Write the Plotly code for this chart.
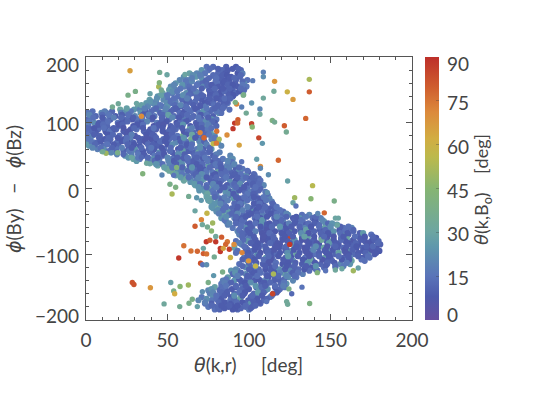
import plotly.graph_objects as go

# Dense cloud: phi difference, then theta(k,r), then theta(k,B0)
rows_y = [185,180,175,170,165,160,155,150,145,140,135,130,125,120,115,110,105,100,95,90,85,80,75,70,65,60,55,50,45,40,35,30,25,20,15,10,5,0,
          -5,-10,-15,-20,-25,-30,-35,-40,-45,-50,-55,-60,-65,-70,-75,-80,-85,-90,-95,-100,-105,-110,-115,-120,-125,-130,-135,-140,-145,-150,-155,-160,-165,-170,-175,-180,-184]
rows_x = [
 [74,78,86,92],
 [71,75,83.5,87,95],
 [63.5,68,73,81,85.5,93,96],
 [60,67.5,70.5,79,83,89,94.5],
 [57.5,62.5,71.5,74,82.5,86,92,99],
 [55,63,69,71.5,80.5,84,91.5,97],
 [52,60.5,63.5,72,78,81,89.5,93,98.5],
 [51,55,63.5,66,75.5,78.5,86.5,90,97],
 [47,53,61.5,65,69.5,78,81.5,89.5,92],
 [44,48,56.5,59.5,68,72,79.5,83,90],
 [39,47.5,50.5,59,63,71,74.5,82.5,86],
 [37,41,49.5,52,61.5,65,73,76.5,84.5,87],
 [32,38,46.5,50,58.5,61.5,70.5,73.5,81.5,85],
 [21,29.5,33,41.5,44,53.5,56,65.5,68,77.5,81,88],
 [1,9.5,12.5,21.5,24,33.5,36.5,45.5,48,57.5,60,69.5,72.5,81.5,83],
 [3,6,14.5,18,26.5,30,38.5,42,50.5,54,62.5,66,74.5,78],
 [0.5,11,15,23.5,28.5,32,40.5,47,51,59.5,63,71,77,80],
 [5,8,19.5,22,31.5,35,43.5,46,55.5,58,67.5,70,79,76],
 [1.5,10,13,20,29,33,41.5,44,52,56.5,64,68,73,80],
 [3,7.5,16,18.5,27.5,31,39.5,43,51.5,55,63.5,69,74],
 [0,6,12.5,16,24.5,37,40.5,49,53,60.5,66,70,76.5],
 [3.5,8.5,14.5,20.5,26,30,38.5,42,50,56,59.5,68,72,79],
 [1,11.5,15,23.5,27,34.5,40,47.5,51,57,64.5,71,77],
 [5,7,13.5,19,25.5,29,37,43,45.5,55,61.5,65,73,81],
 [2,10.5,17,20,28.5,33,41,44,52,58.5,62,70,74,83],
 [7,11,18.5,26,30,38.5,42,48,56.5,60,68,72,77],
 [15,19,28,32,40.5,45,53,57,65.5,69,75,82],
 [24,28,36,42,47,54.5,58,66.5,70,78,88.5],
 [29,33,41.5,45,53,59.5,63,71.5,75,84,90],
 [41,45,53.5,57,65.5,69,77.5,81,89.5],
 [44,51,55,63.5,67,75,78,86.5,91],
 [49.5,56,60,68,72,81,85,92,96],
 [53,57,65.5,69,77.5,81,89,93,99.5],
 [55,62,66,74,78,86,90,98,103.5],
 [61,64,72.5,76,84.5,88,96.5,100,106],
 [64,68,76.5,80,88.5,92,100.5,105],
 [67,74,78,86.5,90,98.5,102,109],
 [71,75,83.5,87,95.5,99,107],
 [73,77,85.5,89,97.5,101,110],
 [74,80,88.5,92,100,104,111.5],
 [77,82,90.5,94,102,106,112.5],
 [76.5,81,85,93.5,97,105,109,114],
 [79,83,91.5,95,103.5,107,115],
 [78,81,89.5,93,101,105,113,116.5],
 [80,87,91,99.5,103,111.5,115,121],
 [84,88,96.5,100,108.5,112,120.5,124,132.5,137],
 [83,91,95,103.5,107,115.5,119,127,131,139,144],
 [86,93,97,105.5,109,117.5,121,129.5,133,141,146],
 [87,95,99,107.5,111,119.5,123,131.5,135,143,147,154],
 [90,98,102,110.5,114,122.5,126,134.5,138,146.5,150,158,163],
 [93,100,104,112.5,116,124.5,128,136.5,140,148.5,152,160,164],
 [94,97,101,109.5,113,121.5,125,133.5,137,145.5,149,157.5,161,169,175],
 [96,100,108.5,112,120.5,124,132.5,136,144.5,148,156.5,160,168,171,178],
 [92,99,103,111.5,115,123.5,127,135.5,139,147.5,151,159,163,171,175,179.5],
 [95.5,103,107,115.5,119,127.5,131,139.5,143,151.5,155,163,167,175,180.5],
 [91,98,106,110,118.5,122,130.5,134,142.5,146,154.5,158,166,170,178],
 [93,98,102,110.5,114,122.5,126,134.5,138,146.5,150,158.5,162,170,174,180],
 [101,105,113.5,117,125.5,129,137.5,141,149.5,153,161.5,165,173,177],
 [97,102,110.5,114,122.5,126,134.5,138,146.5,150,158,162,170,174],
 [99,103,111.5,115,123.5,127,135,139,147.5,151,159.5,163,171],
 [94,100,108.5,112,120.5,124,132.5,136,144,148,156,162],
 [98,102,110.5,114,122.5,126,134.5,138,146,153],
 [89,93,101.5,105,113.5,117,125,129,137,142],
 [90,98,102,110.5,114,122,126,133],
 [87,92,100.5,104,112,116,124,129],
 [84,91,95,103.5,107,115.5,119,127],
 [83,87,95.5,99,107.5,111,119.5,123],
 [79,83,92,96,104.5,108,116,122],
 [75,82,86,94.5,98,106,110,118],
 [76,78,86.5,91,97,103,107,115],
 [71,78,82,89,95,101,105,113],
 [69,77,81,88.5,92,99.5,103,109],
 [73,77,85.5,89,97,101,107],
 [75,79,87.5,91,98,102],
 [79,82,90,93,100],
]
rows_c = [
 [14,12,10,9],
 [24,16,12,9,11],
 [28,20,16,12,9,8,18],
 [22,25,18,14,10,9,12],
 [20,18,22,13,10,8,11,14],
 [24,16,19,12,15,9,10,22],
 [22,17,14,20,11,9,12,9,16],
 [26,20,13,17,10,14,8,10,13],
 [30,18,22,12,16,9,11,8,12],
 [24,19,14,26,12,10,15,9,11],
 [27,21,15,12,18,9,13,10,14],
 [25,18,22,13,10,16,8,12,10,15],
 [28,20,15,24,11,14,9,17,10,12],
 [30,24,19,16,22,12,10,15,9,13,11,14],
 [16,20,14,18,12,24,15,11,19,13,9,16,12,22,14],
 [18,12,15,9,14,20,11,16,10,13,27,12,18,10],
 [12,17,10,13,8,16,11,9,14,19,10,12,24,15],
 [22,10,14,8,12,9,17,11,8,13,10,18,9,20],
 [14,9,12,16,8,11,7,13,10,21,9,14,30,12],
 [10,13,8,11,9,14,7,10,8,12,30,9,16],
 [12,9,16,7,10,8,13,9,11,8,12,10,27],
 [20,11,8,13,9,7,12,10,8,15,33,11,14,22],
 [14,9,12,8,19,10,7,11,13,9,38,14,18],
 [16,12,9,14,8,11,10,8,13,20,9,28,16,30],
 [24,14,20,11,16,9,12,10,8,14,11,25,12,20],
 [18,22,14,10,25,12,9,15,8,11,17,10,24],
 [26,12,18,14,10,22,9,16,11,30,13,18],
 [24,18,13,16,11,9,20,12,17,10,20],
 [30,16,22,12,14,10,18,9,13,16,22],
 [32,18,14,24,11,15,9,20,14],
 [28,20,13,10,16,28,12,18,24],
 [30,18,26,12,9,14,20,10,16],
 [35,22,14,10,16,30,11,13,9],
 [26,20,12,18,9,14,10,25,16],
 [32,18,28,11,15,10,20,9,12],
 [24,16,10,14,22,9,13,15],
 [28,14,20,10,16,9,12,20],
 [22,30,12,18,10,14,11,16],
 [26,16,24,9,12,18,16],
 [28,20,12,24,10,15,13,17],
 [30,14,26,11,16,9,20],
 [26,22,16,10,20,12,9,18],
 [28,14,20,11,16,9,13,19],
 [24,30,12,18,10,15,9,14],
 [22,26,14,11,24,10,16,12],
 [28,16,12,9,18,10,13,22,14,20],
 [24,18,10,14,8,12,16,9,24,13,18],
 [20,12,16,9,13,10,20,8,14,11,26],
 [18,14,10,24,9,12,8,16,10,13,22,24],
 [16,22,12,9,14,8,11,20,10,28,12,14,20],
 [20,12,18,10,8,30,9,13,11,16,24,9,12],
 [18,10,14,9,12,8,15,10,18,9,12,28,10,20,14],
 [12,16,10,8,14,85,9,28,11,7,13,30,9,12,8],
 [14,26,11,8,12,9,20,7,13,10,30,8,26,9,11,12],
 [18,10,14,9,7,26,10,12,8,14,9,11,8,7,10],
 [28,12,9,20,8,13,10,7,11,30,9,12,8,10,7],
 [14,10,16,8,11,9,28,7,12,8,22,10,25,9,13,8],
 [12,22,8,13,10,30,9,14,7,11,8,12,24,9],
 [16,10,26,9,12,8,14,10,28,8,11,20,9,14],
 [20,12,9,14,10,24,8,13,9,11,16,30,14],
 [14,18,10,12,8,15,9,28,11,13,20,24],
 [22,12,16,9,26,10,14,8,13,18],
 [24,14,10,18,9,12,20,10,13,16],
 [12,20,9,14,10,28,13,18],
 [26,14,10,16,8,12,22,15],
 [18,24,12,9,14,10,16,20],
 [16,12,9,20,10,14,12,24],
 [28,14,10,16,9,13,8,15],
 [20,12,9,14,8,22,12,10],
 [18,24,10,13,8,12,20,14],
 [16,22,12,9,26,10,14,18],
 [20,16,9,14,28,10,13,12],
 [14,10,16,9,12,24,11],
 [16,12,10,8,13,11],
 [14,10,8,12,16],
]

# Second pass over the cloud, points seen between the rows above
fill_y = [182,172.5,163,157.5,147.5,142,132,127,117.5,112,102,97,87,82,72,67,57,52,42,37,27,22,12,7,-3,-8,-18,-23,-33,-38,-48,-53,-63,-68,-78,-83,-93,-98,-108,-113,-123,-128,-138,-143,-153,-158,-168,-173,-182]
fill_x = [
 [76,81,90,93.5],
 [65.5,70,78,84,86.5,95],
 [61,65,73.5,79.5,85,88,96],
 [54,59,68,74.5,77,87,90,96],
 [53,56,64.5,67.5,76,83,85,94],
 [46,50,59.5,63,71,76,79.5,87.5,90.5],
 [40,43,52,55,63.5,67,75,78,86.5],
 [34,42.5,45.5,54.5,58,66,70,78.5,81],
 [4,11.5,16,24.5,27.5,36.5,40,48.5,52,60.5,64,72,76,80],
 [2,10,14,22,26,35,38.5,47,50.5,59,62,70.5,74],
 [2,11,13.5,23,25.5,34.5,37.5,46.5,49.5,58.5,61.5,70.5,73.5,77.5],
 [0,7.5,10.5,20,22.5,31.5,35,44.5,47.5,56,59.5,68,71,75],
 [3.5,12,14.5,23,26,35.5,39,47,51,60,62.5,71,75],
 [0.5,5,13.5,16.5,25,28,37,41,49.5,52.5,61.5,65,73.5,75.5],
 [3,9,13,22,24.5,33,36,45.5,48.5,58,61,69.5,72.5,79.5],
 [0,5.5,13,17,25.5,29.5,38,41,50,53,62,65,74],
 [10,14,23,26.5,35,39,47.5,51.5,59.5,63,71,76],
 [19,23,32,35.5,44.5,48,56.5,60.5,68.5,72,80],
 [31,38,42,50.5,54,62.5,66,74.5,81,87],
 [43,47,55.5,59,68,71.5,79.5,82.5,91],
 [51,58.5,62.5,70.5,74,83,86,94,99],
 [55,59,67.5,71,79.5,83,91.5,95,103],
 [60,67.5,71,79.5,83,92,95.5,103.5,107],
 [66.5,70,78,82,91,94.5,102.5,106],
 [69.5,78,82,91,94,103,106],
 [74.5,79,87,90.5,99,103,111],
 [75,83,87,95,99,107,110.5],
 [79,82.5,91,94.5,103,106.5,114.5],
 [81,84,92.5,96,104.5,108,116,119],
 [81.5,89.5,93,101.5,105,113.5,117,123],
 [85,92,96,104.5,108,116.5,120,128,132,140.5,145],
 [88,92,100.5,104,112.5,116,124.5,128,136.5,140,148.5,151],
 [94,99,107.5,111,119.5,123,131.5,135,143.5,147,155.5,159,164],
 [96,100.5,108,112.5,120,124.5,132,136.5,144,148.5,156,160.5,168,170],
 [96.5,104,108.5,116,120.5,128,132.5,140,144.5,152,156.5,164,168.5,176,177],
 [94,101,105.5,113,117.5,125,129.5,137,141.5,149,153.5,161,165.5,173,179],
 [99,103.5,111,115.5,123,127.5,135,139.5,147,151.5,159,163.5,171,175,178.5],
 [92,99.5,107,111.5,119,123.5,131,135.5,143,147.5,155,159.5,167,171.5,178],
 [96,103.5,109,113.5,121,125.5,133,137.5,145,149.5,157,161.5,169],
 [100,104.5,112,116.5,124,128.5,136,140.5,148,152.5,160],
 [92,100,106,110,118.5,122,130.5,134,141],
 [91.5,95,103.5,107,115.5,119,127,130],
 [86,94,98.5,106,110.5,118,121.5],
 [85,89,97.5,101,109.5,113,121.5],
 [77,84,89.5,96,100,108,111.5,119],
 [78,83,86.5,94,97.5,105.5,109,117],
 [74,80,83,91,94.5,102,105,111],
 [73,81.5,85,92.5,96,103,106],
 [81,85,92,95,101],
]
fill_c = [
 [13,10,9,11],
 [22,18,13,10,8,12],
 [16,20,11,14,9,10,12],
 [20,24,15,12,9,11,8,16],
 [22,16,12,19,10,8,12,9],
 [28,16,22,13,11,9,12,10,8],
 [24,20,14,18,11,13,9,12,10],
 [28,22,16,13,20,10,9,14,11],
 [14,18,12,22,16,10,13,19,11,9,14,24,12,16],
 [20,13,16,10,14,9,18,12,28,10,13,9,16],
 [16,11,14,9,12,8,20,10,8,13,9,15,22,12],
 [18,9,13,7,11,8,14,9,7,10,24,9,13,18],
 [12,8,15,9,7,11,9,8,12,7,14,10,16],
 [14,10,8,12,7,18,8,10,7,11,9,30,12,16],
 [16,9,12,8,14,10,7,13,8,10,14,20,11,13],
 [26,12,15,9,11,8,13,10,8,22,9,14,18],
 [22,14,10,16,8,12,9,13,28,10,14,11],
 [20,12,16,9,13,8,22,10,14,12,18],
 [26,18,12,20,9,13,10,16,12,20],
 [24,14,10,22,9,13,16,11,20],
 [32,20,12,9,16,10,13,22,14],
 [28,16,11,22,9,13,10,15,12],
 [30,18,24,10,13,8,16,11,14],
 [26,14,20,9,12,22,10,13],
 [24,16,10,20,9,13,11],
 [30,14,22,9,16,10,13,18],
 [26,12,18,10,14,9,16],
 [24,20,12,16,9,14,11,17],
 [22,14,10,18,8,13,10,15],
 [18,12,20,9,11,8,14,20],
 [16,10,13,8,24,9,12,10,14,8,20],
 [20,12,9,14,8,11,18,9,13,10,12,24],
 [14,9,11,7,13,8,10,28,9,12,8,14,11],
 [12,9,7,13,8,10,22,7,11,8,13,9,10,26],
 [13,9,7,11,8,24,7,10,32,8,12,7,9,8,10],
 [18,10,8,12,7,9,11,8,7,26,9,8,11,7,12],
 [12,8,10,7,11,8,7,20,9,8,7,10,8,7,9],
 [14,9,7,11,8,22,9,7,10,8,28,7,9,11,8],
 [10,8,13,7,9,11,8,30,7,10,8,9,14],
 [12,9,7,14,8,10,24,8,11,9,16],
 [20,10,13,8,22,9,12,8,14],
 [24,12,9,14,8,18,10,14],
 [16,9,13,8,20,10,12],
 [18,11,8,22,9,12,16,12],
 [24,14,9,12,8,13,22,12],
 [20,12,10,14,8,26,11,9],
 [22,14,9,12,30,10,8,11],
 [18,12,9,13,8,10,9],
 [12,9,8,11,10],
]

# Third pass: the spots still bare after the first two
extra_y = [168,152,137,122,108,92,77,62,47,32,17,2,-13,-28,-43,-58,-73,-88,-103,-118,-133,-148,-163,-178]
extra_x = [
 [65,75.5,80,88,91],
 [58,66,71,79,84,88,95],
 [43.5,54,62,68,76,80,85,88.5],
 [25,36,43,49,55,62,67,74,79,84],
 [4.5,10,17,21.5,29,34.5,41,46.5,53,57,65,69,75],
 [0.5,5,11,17,23,29.5,35,41.5,47,53.5,59,65,71,77],
 [1,8,14,19.5,25,32,37,43,49.5,54,60,67,72,79],
 [4,9,16,22,28,34,40,46.5,52,58,64.5,70,76],
 [26,32,38,44,50,56,62,68,73,79],
 [48,53,59,65,70,76,83,88,94],
 [58,63,69,74,80,86,93,98,102],
 [69,74,80,85,92,97,104],
 [74,79,85,92,97,103,109],
 [77,86,93,99,106,110,117],
 [86,92,98,105,111,117,123,129,135,141],
 [95,101,107,114,119,126,131,138,143,150,156,161],
 [96,103,109,115,122,127,134,140,146,152,158,165,171,176],
 [97,104,110,117,123,129,136,141,148,153,160,166,172,176],
 [99,106,112,118,124,130,137,143,149,155,161,167,173],
 [96,104,110,116,123,128,135,141,147,153,158],
 [93,99,105,111,118,123,128],
 [86,92,98,104,110,116,121],
 [80,85,91,96,102,108,114],
 [77,83,88,93,98,104],
]
extra_c = [
 [18,12,14,9,12],
 [16,14,10,12,9,11,13],
 [22,14,18,12,10,9,13,11],
 [28,18,12,20,10,14,9,16,11,13],
 [14,9,18,12,10,16,8,11,20,9,13,16,10],
 [12,8,14,10,7,12,9,15,8,11,9,18,10,14],
 [16,10,12,8,14,9,7,11,8,13,24,9,12,16],
 [20,14,11,18,9,12,16,8,13,10,14,22,12],
 [24,16,12,9,20,10,14,11,16,13],
 [28,16,11,24,9,13,10,18,12],
 [26,14,20,9,12,16,10,13,11],
 [24,12,18,10,13,9,14],
 [28,12,18,10,14,9,16],
 [24,14,10,18,9,12,15],
 [22,12,9,14,8,20,11,9,16,12],
 [14,10,8,12,24,9,11,8,13,22,10,14],
 [12,9,7,11,8,10,28,8,12,7,9,13,8,11],
 [14,8,10,7,12,9,8,22,7,11,9,8,10,12],
 [10,9,12,8,26,9,7,11,8,13,9,10,14],
 [12,20,9,13,8,11,9,24,10,12,16],
 [18,10,14,9,12,20,13],
 [16,12,9,24,10,13,18],
 [14,10,22,9,12,9,14],
 [12,9,10,8,12,11],
]

# Scattered points that stand alone in the picture
single_x = [108.8,108.8,102.3,115.7,137,115.3,123.5,137,127,108.8,96.7,101.6,106.7,106.7,98.3,95.5,114.3,115.7,134.8,121.7,122.9,101.6,102,106,108.2,104.7,118,107,107,111.9,123.7,139,95.5,
            128,138,152.3,127,128.8,146.2,111.2,142.2,153,154.8,154.2,124.5,132.5,126.2,123.1,123.7,137.2,114.5,110.8,141.9,153,164,167,157,147,
            28.4,29.4,39.5,47.9,52,53.8,54.4,57.7,57.5,62.8,63.2,65.2,68.3,56.9,60,64.4,68.3,72,74,70.3,66.9,70.8,74.2,77.7,73.8,76,79.6,83.2,86.7,85.7,82.4,82.4,84.2,87.9,90.8,88.6,95.7,99.7,
            52.8,63,67.9,70.7,75.5,66.9,71.4,74.5,77,79.6,72,71.6,74,78.7,78.3,83.8,75,71.4,
            27,45.2,49.7,60.7,44.6,45,46.2,25.8,30.3,39.3,19.8,16.2,31,12.3,10.2,15.7,19.4,27.8,34,37.2,39.2,34.8,46.6,51.5,55,55.6,53.8,
            91.2,93.2,93,90.2,86.5,80.2,92.4,91.6,94,78,81.7,72.4,80,70,34,96.5,125,115,104]
single_y = [177,170,164,163,166,148,147,147,135.5,137.5,142.6,130,121,113,114.7,124,103.6,101,106.6,95.5,86,98.5,93.5,77,68.7,44.4,43,33.7,30.7,21,11.4,4.3,40.7,
            -14,-15.5,-19,-21.6,-26.6,-37,-6,-38,-45,-45,-55.5,-152.7,-150,-160,-172,-176,-175,-160,-172,-128,-124,-125,-121,-122,-125,
            -143,-146,-151,-175.5,-143,-156,-160,-149,-179.6,-146.7,-174.5,-168.4,-179.6,-105.6,-87,-95,-95.5,-99,-99.5,-113.7,-57.5,-47.4,-37.7,-52.4,-81,-78.7,-81,-74,-81,-85,-91,-96,-91,-92.4,-85,-105,-97.5,-110,
            -8.4,-12,-14,-18,-19,-34,-55,-58.5,-64.6,-73,-91,-116,-116,-104,-132.5,-127,-143,-157,
            179,176.6,173,173.5,154.7,160.8,149.7,142,147.7,144,129,124,129.5,53.5,56,54.4,54.4,47.4,47.5,38.3,37.5,22.5,20.5,6.4,2,32,20,
            99.5,104.6,99.6,91,81.3,87,128.4,131,66,68,74.8,77.2,69,85,110,142,-85,-130,-118]
single_c = [18,22,17,68,52,33,60,80,67,32,33,24,20,32,34,18,40,35,78,80,35,86,45,85,25,27,78,70,20,22,28,55,15,
            50,45,38,28,15,78,22,20,30,30,30,38,15,12,33,33,40,85,15,42,32,50,28,30,15,
            82,82,68,32,28,38,62,45,35,50,38,38,28,88,76,76,78,80,76,82,80,72,58,50,88,80,88,80,75,78,88,88,65,86,70,60,72,68,
            52,35,25,25,28,30,32,35,45,32,30,15,22,35,25,38,38,22,
            66,35,30,30,52,42,35,38,38,28,33,35,30,50,35,20,38,30,12,32,30,42,20,38,40,42,15,
            88,80,78,88,70,76,72,40,65,55,52,78,74,72,70,38,88,52,58]

x_ticks = [0,50,100,150,200]
y_ticks = [200,100,0,-100,-200]
y_labels = ["200","100","0","\u2212100","\u2212200"]
y_label_shift = [-7,-1,-1.5,-1.5,5]
cb_ticks = [90,75,60,45,30,15,0]
cb_label_shift = [-6,-1.5,-1.5,-1.5,-1.5,-1,6]

x_vals, y_vals, c_vals = [], [], []
for yv, xs, cs in list(zip(rows_y, rows_x, rows_c)) + list(zip(fill_y, fill_x, fill_c)) + list(zip(extra_y, extra_x, extra_c)):
    for xv, cv in zip(xs, cs):
        x_vals.append(xv); y_vals.append(yv); c_vals.append(cv)
x_vals += single_x; y_vals += single_y; c_vals += single_c
sizes = [6.2]*(len(x_vals)-len(single_x)) + [5.4]*len(single_x)

scale = [[0,"#654f9f"],[0.09,"#4c5aab"],[0.167,"#5a74b9"],[0.28,"#5f98ac"],[0.333,"#6ca5a2"],
         [0.5,"#86b572"],[0.62,"#bcb94c"],[0.69,"#d2ad42"],[0.79,"#dc8a3c"],[0.88,"#d0602f"],[1,"#bd2f2a"]]

INK = "#444444"
FONT = "Lato"
TXT = dict(family=FONT, size=19, color=INK)
fig = go.Figure(go.Scatter(
    x=x_vals, y=y_vals, mode="markers",
    marker=dict(size=sizes, opacity=1, color=c_vals, cmin=0, cmax=90, colorscale=scale, line=dict(width=0),
                colorbar=dict(x=1.04, xanchor="left", y=0.5, yanchor="middle", len=1, lenmode="fraction",
                              thickness=14, thicknessmode="pixels", xpad=0, ypad=0, outlinewidth=0,
                              tickmode="array", tickvals=cb_ticks, showticklabels=False,
                              ticks="inside", ticklen=3, tickwidth=1, tickcolor="rgba(60,60,60,0.35)")),
    hoverinfo="skip", showlegend=False))

axis = dict(mirror="allticks", showline=True, linecolor="#555", linewidth=1, ticks="inside", tickcolor="#555",
            ticklen=6, tickwidth=1, showgrid=False, zeroline=False)
fig.update_xaxes(range=[0,200], tickmode="array", tickvals=x_ticks, minor=dict(dtick=10, ticks="inside", ticklen=3, tickcolor="#555"),
                 tickfont=TXT, ticklabelstandoff=3, **axis)
fig.update_yaxes(range=[-200,200], tickmode="array", tickvals=y_ticks, showticklabels=False,
                 minor=dict(dtick=20, ticks="inside", ticklen=3, tickcolor="#555"), **axis)

W0, H0, PW, PH = 86, 57, 326, 263
def px(v): return (v-W0)/PW
def py(v): return (H0+PH-v)/PH
SP = "\u00a0"
GREEK = "font-family:'DejaVu Sans';font-style:oblique"
ann = []
for v, t, s in zip(y_ticks, y_labels, y_label_shift):
    ann.append(dict(x=px(81), xref="paper", y=v, yref="y", yshift=s, text=t, showarrow=False, xanchor="right", yanchor="middle", font=TXT))
for v, s in zip(cb_ticks, cb_label_shift):
    ann.append(dict(x=px(445), xref="paper", y=v/90, yref="paper", yshift=s, showarrow=False, text=str(v), xanchor="left", yanchor="middle", font=TXT))
ann.append(dict(x=px(13), xref="paper", y=py(189), yref="paper", xanchor="center", yanchor="middle",
                text=f"<span style=\"{GREEK}\">\u03d5</span>(By){SP}{SP}{SP}\u2212{SP}{SP}{SP}<span style=\"{GREEK}\">\u03d5</span>(Bz)", textangle=-90, showarrow=False, font=TXT))
ann.append(dict(x=px(248), xref="paper", y=py(364), yref="paper", xanchor="center", yanchor="middle",
                text=f"<span style=\"{GREEK}\">\u03b8</span>(k,r){SP}{SP}{SP}{SP}{SP}[deg]", showarrow=False, font=TXT))
ann.append(dict(x=px(482), xref="paper", y=py(190), yref="paper", xanchor="center", yanchor="middle",
                text=f"<span style=\"{GREEK}\">\u03b8</span>(k,B<sub>o</sub>){SP}{SP}{SP}{SP}[deg]", textangle=-90, showarrow=False,
                font=dict(family=FONT, size=18, color=INK)))

fig.update_layout(width=538, height=399, margin=dict(l=86, r=126, t=57, b=79, autoexpand=False), paper_bgcolor="white", plot_bgcolor="white",
                  annotations=ann, font=dict(family=FONT))
# The page would otherwise keep the browser's 8 px body margin
fig.write_html("out.html", config={"displayModeBar": False}, post_script="document.body.style.margin='0';")
